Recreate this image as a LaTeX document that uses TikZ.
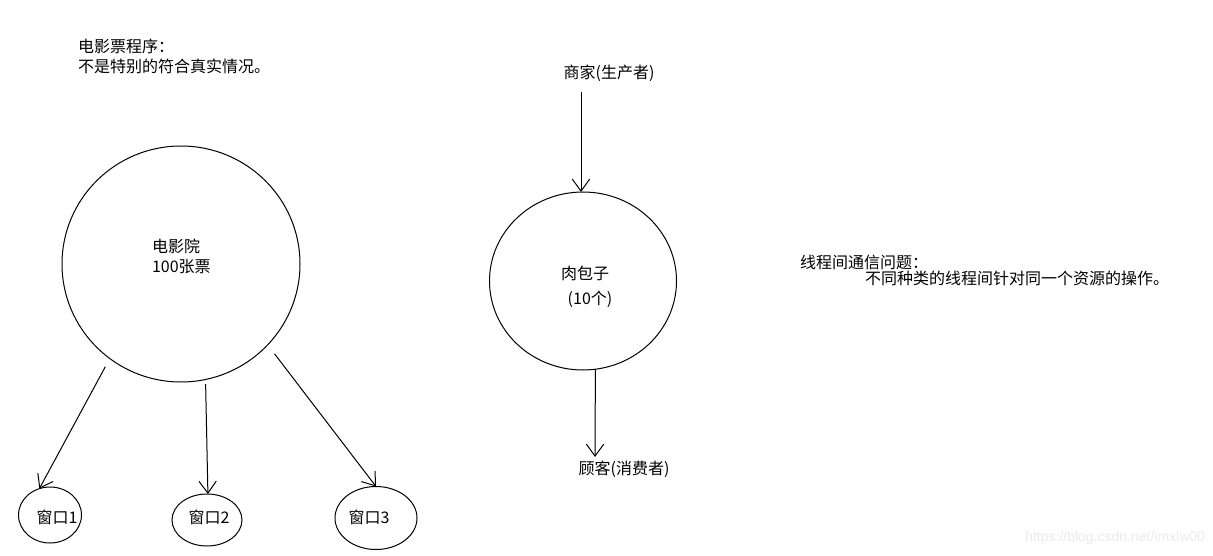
\documentclass[tikz,border=0pt]{standalone}
\usepackage{fontspec}
\setmainfont{Noto Sans CJK SC}
\newfontfamily\wmfont{Liberation Sans}
\usetikzlibrary{arrows.meta,shapes.geometric}
\begin{document}
\begin{tikzpicture}[x=0.75pt,y=-0.75pt,
  every node/.style={inner sep=0pt,outer sep=0pt},
  txt/.style={font=\fontsize{12}{15}\selectfont,align=left},
  shape line/.style={draw,line width=0.75pt},
  arr/.style={draw,line width=0.75pt,-{Straight Barb[length=9pt,width=13pt,line width=0.75pt]}}]
\useasboundingbox[fill=white] (0,0) rectangle (1213,556);
% left texts
\node[txt,anchor=north west] (title) at (78,39) {电影票程序：\\不是特别的符合真实情况。};
% cinema
\node[shape line,ellipse,minimum width=238*0.75pt,minimum height=236*0.75pt] (cinema) at (181,264) {};
\node[txt,anchor=north west] (cinematext) at (152,239) {电影院\\100张票};
% windows
\node[shape line,ellipse,minimum width=63*0.75pt,minimum height=56*0.75pt] (w1) at (50,515) {};
\node[shape line,ellipse,minimum width=70*0.75pt,minimum height=52*0.75pt] (w2) at (207,520) {};
\node[shape line,ellipse,minimum width=82*0.75pt,minimum height=63*0.75pt] (w3) at (376,518) {};
\node[txt] (w1t) at (57,517) {窗口1};
\node[txt] (w2t) at (209,517) {窗口2};
\node[txt] (w3t) at (369,517) {窗口3};
\draw[arr,shorten <=7pt] (cinema.233) -- (w1.112);
\draw[arr,shorten <=3.5pt] (cinema.282) -- (w2.88);
\draw[arr,shorten <=8.5pt] (cinema.317) -- (w3.north);
% producer / consumer
\node[txt] (shop) at (609,73) {商家(生产者)};
\node[shape line,ellipse,minimum width=187*0.75pt,minimum height=178*0.75pt] (bun) at (583,281) {};
\node[txt] (buntext) at (585,273) {肉包子};
\node[txt] (buncount) at (590,299) {(10个)};
\node[txt] (customer) at (624,469) {顾客(消费者)};
\coordinate (shopfoot) at (581,92);
\coordinate (custhead) at (595,457);
\draw[arr] (shopfoot) -- (bun.north -| shopfoot);
\draw[arr] (bun.278) -- (custhead);
% right text
\node[txt,anchor=west] (comm1) at (800,262) {线程间通信问题：};
\node[txt,anchor=west] (comm2) at (865,278) {不同种类的线程间针对同一个资源的操作。};
% watermark
\node[font=\wmfont\fontsize{10.5}{12}\selectfont,text=black!8,anchor=east] (wm) at (1205,538) {https://blog.csdn.net/imxlw00};
\end{tikzpicture}
\end{document}
